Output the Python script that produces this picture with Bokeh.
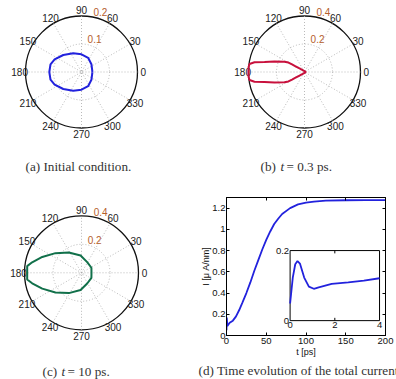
import numpy as np
from bokeh.plotting import figure
from bokeh.layouts import column, row
from bokeh.models import Range1d, LinearAxis, FixedTicker, Title
from bokeh.embed import file_html
from bokeh.resources import INLINE
from bokeh.core.properties import value

# ---------------- data ----------------
angle_ticks = [0, 30, 60, 90, 120, 150, 180, 210, 240, 270, 300, 330]
angle_labels = [str(a) for a in angle_ticks]

# (a) initial condition (upper half, mirrored)
theta_a = [0, 38, 65, 90, 114, 137, 155, 166, 180]
r_a = [0.039, 0.045, 0.056, 0.063, 0.073, 0.089, 0.106, 0.114, 0.115]
rings_a = [0.1, 0.2]
ring_labels_a = ["0.1", "0.2"]

# (b) t = 0.3 ps
theta_b = [0, 60, 120, 134, 145, 147.4, 148.7, 149.5, 152.7, 160.7, 166, 169, 171.7, 174.9, 180]
r_b = [0.012, 0.006, 0.011, 0.019, 0.047, 0.076, 0.104, 0.133, 0.161, 0.227, 0.294, 0.364, 0.397, 0.401, 0.400]
rings_b = [0.2, 0.4]
ring_labels_b = ["0.2", "0.4"]

# (c) t = 10 ps
theta_c = [0, 27, 62, 93, 122, 143, 158, 168, 173, 180]
r_c = [0.070, 0.078, 0.085, 0.121, 0.168, 0.229, 0.297, 0.354, 0.384, 0.381]
rings_c = [0.2, 0.4]
ring_labels_c = ["0.2", "0.4"]

# (d) total current vs time
t_main = [0, 0.35, 1.1, 4, 8, 12, 16, 20, 25, 30, 35, 40, 45, 50, 55, 60, 65, 70,
          80, 90, 100, 110, 125, 150, 175, 200]
I_main = [0.05, 0.17, 0.09, 0.12, 0.14, 0.18, 0.24, 0.31, 0.40, 0.50, 0.61, 0.71,
          0.81, 0.90, 0.98, 1.05, 1.10, 1.145, 1.20, 1.235, 1.252, 1.262, 1.27,
          1.274, 1.275, 1.275]
t_inset = [0, 0.12, 0.23, 0.33, 0.44, 0.63, 0.84, 1.06, 1.28, 1.86, 2.6, 3.3, 4.0]
I_inset = [0.049, 0.123, 0.161, 0.170, 0.163, 0.123, 0.097, 0.091, 0.095, 0.105,
           0.109, 0.114, 0.121]

x_ticks = [0, 50, 100, 150, 200]
x_tick_labels = ["0", "50", "100", "150", "200"]
y_ticks = [0, 0.2, 0.4, 0.6, 0.8, 1.0, 1.2]
y_tick_labels = ["0", "0.2", "0.4", "0.6", "0.8", "1", "1.2"]
inset_x_ticks = [0, 2, 4]
inset_x_labels = ["0", "2", "4"]
inset_y_ticks = [0, 0.2]
inset_y_labels = ["0", "0.2"]

SANS = "Liberation Sans"
SERIF = "Liberation Serif"
CAP_COLOR = "#333333"
CAP_SIZE = "13.2px"


def polar_panel(W, H, cx, cy, R, rmax, theta, r, rings, ring_labels, color,
                caption_parts, cap_y):
    s = R / rmax
    p = figure(width=W, height=H, title=None,
               x_range=Range1d(-cx / s, (W - cx) / s),
               y_range=Range1d(-(H - cy) / s, cy / s),
               x_axis_type=None, y_axis_type=None,
               output_backend="svg", toolbar_location=None, min_border=0)
    p.frame_align = False
    p.grid.visible = False
    p.outline_line_color = None
    # outer disc
    p.circle(x=[0], y=[0], radius=rmax, fill_color="white",
             line_color="#111111", line_width=1.3)
    # inner rings
    p.circle(x=[0] * (len(rings) - 1), y=[0] * (len(rings) - 1), radius=rings[:-1],
             fill_color=None, line_color="#a8a8a8", line_dash="1 2", line_width=0.8)
    # spokes
    a = np.deg2rad(angle_ticks[:6])
    p.segment(x0=-rmax * np.cos(a), y0=-rmax * np.sin(a),
              x1=rmax * np.cos(a), y1=rmax * np.sin(a),
              line_color="#a8a8a8", line_dash="1 2", line_width=0.8)
    # angle labels
    aa = np.deg2rad(angle_ticks)
    p.text(x=1.105 * rmax * np.cos(aa), y=1.105 * rmax * np.sin(aa), text=angle_labels,
           text_align="center", text_baseline="middle",
           text_font=value(SANS), text_font_size="10px", text_color="#222222")
    # radial labels
    ra = np.deg2rad(78)
    rr = np.array(rings) + rmax / 40
    p.text(x=rr * np.cos(ra), y=rr * np.sin(ra), text=ring_labels,
           text_align="left", text_baseline="bottom",
           text_font=value(SANS), text_font_size="10px", text_color="#b5602c")
    # curve (mirror upper half)
    th = np.array(theta, dtype=float)
    rv = np.array(r, dtype=float)
    th_full = np.r_[th, 360 - th[::-1][1:]]
    r_full = np.r_[rv, rv[::-1][1:]]
    p.line(x=r_full * np.cos(np.deg2rad(th_full)), y=r_full * np.sin(np.deg2rad(th_full)),
           line_color=color, line_width=2)
    # caption
    for xpx, txt, style in caption_parts:
        p.text(x=[(xpx - cx) / s], y=[(cy - cap_y) / s], text=[txt],
               text_align="left", text_baseline="middle",
               text_font=value(SERIF), text_font_size=CAP_SIZE,
               text_font_style=style, text_color=CAP_COLOR)
    return p


pa = polar_panel(198, 186, 81, 71.5, 56, 0.2, theta_a, r_a, rings_a, ring_labels_a,
                 "#2222dd", [(25, "(a) Initial condition.", "normal")], 166)
pb = polar_panel(198, 186, 106, 71.5, 56, 0.4, theta_b, r_b, rings_b, ring_labels_b,
                 "#c8103c", [(62, "(b)", "normal"), (82, "t", "italic"),
                             (88, "= 0.3 ps.", "normal")], 166)
pc = polar_panel(198, 193, 81, 86.3, 57, 0.4, theta_c, r_c, rings_c, ring_labels_c,
                 "#11704a", [(42, "(c)", "normal"), (61, "t", "italic"),
                             (67, "= 10 ps.", "normal")], 185)

# ---------------- panel (d) ----------------
pd = figure(width=198, height=193, title=None, x_range=Range1d(0, 200),
            y_range=Range1d(0, 1.3),
            output_backend="svg", toolbar_location=None,
            min_border_left=24, min_border_right=11, min_border_top=11,
            min_border_bottom=43)
pd.frame_align = False
pd.grid.visible = False
pd.outline_line_color = "black"
pd.xaxis.ticker = FixedTicker(ticks=x_ticks)
pd.xaxis.major_label_overrides = dict(zip(x_ticks, x_tick_labels))
pd.yaxis.ticker = FixedTicker(ticks=y_ticks)
pd.yaxis.major_label_overrides = dict(zip(y_ticks, y_tick_labels))
pd.xaxis.axis_label = "t [ps]"
pd.yaxis.axis_label = "I [\u03bc A/nm]"
for ax in (pd.xaxis, pd.yaxis):
    ax.major_tick_in = 3
    ax.major_tick_out = 0
    ax.minor_tick_line_color = None
    ax.axis_line_color = "black"
    ax.major_tick_line_color = "black"
    ax.major_label_text_font = SANS
    ax.major_label_text_font_size = "9.5px"
    ax.major_label_text_color = "#111111"
    ax.major_label_standoff = 2
    ax.axis_label_text_font = SANS
    ax.axis_label_text_font_size = "9px"
    ax.axis_label_text_font_style = "normal"
    ax.axis_label_text_color = "#111111"
    ax.axis_label_standoff = 0
pd.yaxis.major_label_standoff = 1
pd.yaxis.axis_label_standoff = -2
for side, tk in (("right", y_ticks), ("above", x_ticks)):
    ax = LinearAxis(ticker=FixedTicker(ticks=tk), major_label_text_font_size="0px",
                    major_label_standoff=0, major_tick_in=3, major_tick_out=0,
                    minor_tick_line_color=None, axis_line_color="black")
    pd.add_layout(ax, side)

pd.line(t_main, I_main, line_color="#2222dd", line_width=1.8)

# inset
inset_x = (80, 192.5)
inset_y = (0.14, 0.80)
pd.quad(left=[inset_x[0]], right=[inset_x[1]], bottom=[inset_y[0]], top=[inset_y[1]],
        fill_color="white", line_color="black", line_width=1)
sub = pd.subplot(x_source=Range1d(0, 4), y_source=Range1d(0, 0.2),
                 x_target=Range1d(*inset_x), y_target=Range1d(*inset_y))
sub.segment(x0=[2, 2], y0=[0, 0.2], x1=[2, 2], y1=[0.008, 0.192],
            line_color="black", line_width=1)
sub.line(t_inset, I_inset, line_color="#2222dd", line_width=1.8)
sub.text(x=inset_x_ticks, y=[0] * len(inset_x_ticks), text=inset_x_labels,
         text_align="center", text_baseline="top", y_offset=1,
         text_font=value(SANS), text_font_size="9.5px", text_color="#111111")
sub.text(x=[0] * len(inset_y_ticks), y=inset_y_ticks, text=inset_y_labels,
         text_align="right", text_baseline="middle", x_offset=-1,
         text_font=value(SANS), text_font_size="9.5px", text_color="#111111")

cap = Title(text="(d) Time evolution of the total current", align="left",
            offset=-28, standoff=3,
            text_font=SERIF, text_font_size=CAP_SIZE, text_color=CAP_COLOR,
            text_font_style="normal")
pd.add_layout(cap, "below")

layout = column(row(pa, pb), row(pc, pd))
open("out.html", "w").write(file_html(layout, INLINE))
